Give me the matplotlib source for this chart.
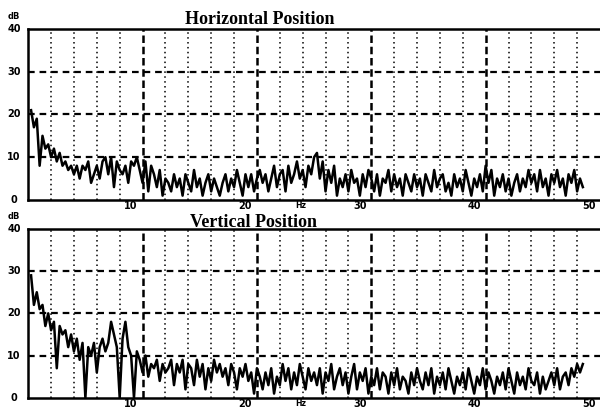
import matplotlib
matplotlib.use("Agg")
import matplotlib.pyplot as plt
import numpy as np

# frequency axis: 0.25 Hz steps, 0.25 .. 48.5 Hz
freq_start = 0.25
freq_step = 0.25

horizontal_db = [
    21, 17, 19, 8, 15, 12, 13, 10, 12, 9, 11, 8, 9, 7, 8, 6,
    8, 5, 8, 7, 9, 4, 6, 8, 5, 9, 10, 6, 10, 3, 9, 7,
    6, 8, 4, 9, 8, 10, 7, 4, 9, 2, 8, 6, 3, 7, 1, 5,
    4, 2, 6, 3, 5, 1, 6, 4, 2, 7, 3, 5, 1, 4, 6, 2,
    5, 3, 1, 4, 6, 2, 5, 3, 7, 4, 1, 6, 3, 6, 2, 5,
    7, 4, 6, 2, 5, 8, 3, 6, 7, 2, 8, 4, 6, 9, 5, 7,
    3, 8, 6, 10, 11, 5, 9, 2, 7, 4, 8, 1, 5, 3, 6, 2,
    7, 4, 5, 1, 6, 3, 7, 5, 2, 6, 1, 5, 4, 7, 2, 6,
    3, 5, 1, 6, 4, 2, 6, 3, 5, 1, 6, 4, 2, 7, 3, 5,
    6, 2, 4, 1, 6, 3, 5, 2, 7, 4, 1, 5, 3, 6, 2, 8,
    4, 7, 1, 5, 3, 6, 2, 5, 1, 4, 6, 2, 5, 3, 7, 4,
    6, 2, 7, 3, 5, 1, 6, 4, 7, 3, 5, 1, 6, 4, 7, 2,
    5, 3,
]

vertical_db = [
    29, 22, 25, 21, 22, 17, 20, 16, 18, 7, 17, 15, 16, 12, 15, 11,
    14, 9, 13, 0, 12, 10, 13, 6, 12, 14, 11, 13, 18, 15, 12, 0,
    14, 18, 12, 10, 0, 11, 9, 6, 10, 5, 8, 7, 9, 4, 8, 6,
    7, 9, 3, 8, 6, 9, 2, 8, 7, 3, 9, 5, 8, 2, 7, 4,
    9, 6, 8, 5, 7, 3, 8, 6, 2, 7, 5, 8, 4, 6, 1, 7,
    5, 2, 6, 3, 7, 1, 5, 3, 8, 4, 7, 2, 6, 3, 8, 5,
    2, 7, 4, 6, 3, 7, 1, 6, 4, 8, 2, 5, 7, 3, 6, 1,
    5, 8, 2, 6, 4, 7, 1, 5, 3, 7, 2, 6, 5, 1, 6, 3,
    7, 2, 5, 4, 1, 6, 3, 7, 4, 2, 6, 3, 7, 1, 5, 3,
    6, 2, 7, 4, 1, 5, 3, 6, 2, 7, 4, 1, 5, 3, 7, 2,
    6, 4, 1, 5, 3, 6, 2, 7, 4, 1, 6, 3, 5, 2, 7, 4,
    3, 6, 1, 5, 2, 4, 6, 3, 7, 2, 5, 6, 3, 7, 5, 8,
    6, 8,
]

titles = ["Horizontal Position", "Vertical Position"]
y_ticks = [0, 10, 20, 30, 40]
x_major = [10, 20, 30, 40, 50]
x_minor = [2, 4, 6, 8, 12, 14, 16, 18, 22, 24, 26, 28,
           32, 34, 36, 38, 42, 44, 46, 48]

freqs = freq_start + freq_step * np.arange(len(horizontal_db))

fig = plt.figure(figsize=(6.0, 4.08), dpi=100)
axes_rects = [[0.047, 0.510, 0.953, 0.419],
              [0.047, 0.025, 0.953, 0.414]]
title_pos = [(0.433, 0.941), (0.423, 0.444)]
serif = "Liberation Serif"

for rect, series, title, tpos in zip(axes_rects, [horizontal_db, vertical_db],
                                     titles, title_pos):
    ax = fig.add_axes(rect)
    ax.set_xlim(0, 50)
    ax.set_ylim(0, 40)

    # grid: dotted every 2 Hz, dashed every 10 Hz / 10 dB
    for x in x_minor:
        ax.axvline(x, color="black", lw=1.1, ls=(0, (1, 2.2)), zorder=1)
    for x in x_major[:-1]:
        ax.axvline(x, color="black", lw=1.8, ls=(0, (3, 1.5)), zorder=1)
    for y in y_ticks[1:-1]:
        ax.axhline(y, color="black", lw=1.6, ls=(0, (3, 2.2)), zorder=1)

    ax.plot(freqs, series, color="black", lw=1.8, zorder=3)

    for side in ["left", "top", "bottom"]:
        ax.spines[side].set_linewidth(1.8)
    ax.spines["right"].set_visible(False)
    ax.set_xticks([])
    ax.set_yticks([])

    for y in y_ticks:
        ax.text(-0.025, y / 40, str(y), transform=ax.transAxes, ha="center",
                va="center", fontsize=7, fontweight="bold",
                family="DejaVu Sans")
    ax.text(-0.025, 1.075, "dB", transform=ax.transAxes, ha="center",
            va="center", fontsize=6, fontweight="bold", family="DejaVu Sans")
    for x in x_major:
        ax.text(x - 1.0, -0.035, str(x), transform=ax.get_xaxis_transform(),
                ha="center", va="center", fontsize=7, fontweight="bold",
                family="DejaVu Sans", clip_on=False)
    ax.text(23.8, -0.035, "Hz", transform=ax.get_xaxis_transform(),
            ha="center", va="center", fontsize=5.5, fontweight="bold",
            family="DejaVu Sans")

    fig.text(tpos[0], tpos[1], title, ha="center", va="baseline",
             fontsize=13, fontweight="bold", family=serif)

fig.savefig("out.png", dpi=100)
